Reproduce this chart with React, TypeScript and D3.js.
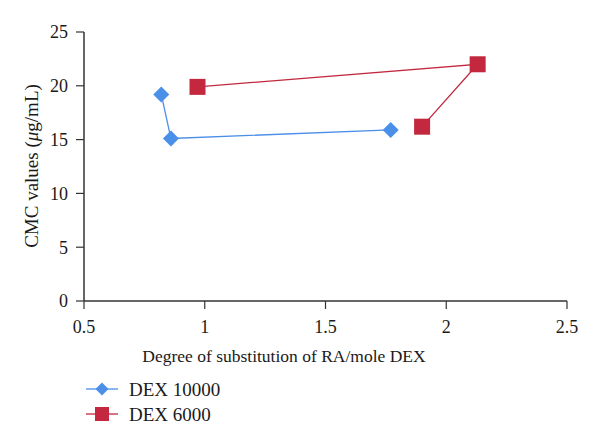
import React from "react";
import * as d3 from "d3";

const xTicks = [0.5, 1, 1.5, 2, 2.5];
const yTicks = [0, 5, 10, 15, 20, 25];
const dex10000X = [0.82, 0.86, 1.77];
const dex10000Y = [19.2, 15.1, 15.9];
const dex6000X = [0.97, 2.13, 1.9];
const dex6000Y = [19.9, 22.0, 16.2];
const seriesNames = ["DEX 10000", "DEX 6000"];

const W = 600, H = 448;
const BLUE = "#4a8fe8";
const RED = "#c3283f";
const FONT = "'Liberation Serif', 'DejaVu Serif', serif";
const TXT = "#1a1a1a";

export default function App() {
  const x = d3.scaleLinear().domain([0.5, 2.5]).range([84, 567]);
  const y = d3.scaleLinear().domain([0, 25]).range([301, 32]);
  const line = d3.line<[number, number]>().x(d => x(d[0])).y(d => y(d[1]));
  const s1: [number, number][] = dex10000X.map((v, i) => [v, dex10000Y[i]]);
  const s2: [number, number][] = dex6000X.map((v, i) => [v, dex6000Y[i]]);
  const diamond = (cx: number, cy: number, r: number) =>
    `M${cx},${cy - r}L${cx + r},${cy}L${cx},${cy + r}L${cx - r},${cy}Z`;
  const sq = 16;
  return (
    <svg width={W} height={H} style={{ position: "absolute", left: 0, top: 0, background: "#fff" }} fontFamily={FONT}>
      <line x1={x(0.5)} x2={x(2.5)} y1={y(0)} y2={y(0)} stroke="#333" strokeWidth={1.5} />
      <line x1={x(0.5)} x2={x(0.5)} y1={y(0)} y2={y(25)} stroke="#333" strokeWidth={1.5} />
      {yTicks.map(t => (
        <g key={"y" + t}>
          <line x1={x(0.5) - 8} x2={x(0.5)} y1={y(t)} y2={y(t)} stroke="#333" strokeWidth={1.2} />
          <text x={x(0.5) - 16} y={y(t)} dy="0.35em" textAnchor="end" fontSize={18} fill={TXT}>{t}</text>
        </g>
      ))}
      {xTicks.map(t => (
        <g key={"x" + t}>
          <line x1={x(t)} x2={x(t)} y1={y(0)} y2={y(0) + 8} stroke="#333" strokeWidth={1.2} />
          <text x={x(t)} y={y(0) + 32} textAnchor="middle" fontSize={18} fill={TXT}>{t}</text>
        </g>
      ))}
      <text x={284} y={362} textAnchor="middle" fontSize={17.5} fill={TXT}>Degree of substitution of RA/mole DEX</text>
      <text transform={`translate(38,166) rotate(-90)`} textAnchor="middle" fontSize={19} fill={TXT}>
        CMC values (<tspan fontStyle="italic">μ</tspan>g/mL)
      </text>
      <path d={line(s1) || ""} fill="none" stroke={BLUE} strokeWidth={1.3} />
      <path d={line(s2) || ""} fill="none" stroke={RED} strokeWidth={1.3} />
      {s1.map((d, i) => (
        <path key={"d" + i} d={diamond(x(d[0]), y(d[1]), 8)} fill={BLUE} />
      ))}
      {s2.map((d, i) => (
        <rect key={"s" + i} x={x(d[0]) - sq / 2} y={y(d[1]) - sq / 2} width={sq} height={sq} fill={RED} />
      ))}
      <line x1={86} x2={118} y1={389} y2={389} stroke={BLUE} strokeWidth={1.3} />
      <path d={diamond(102, 389, 6.5)} fill={BLUE} />
      <text x={129} y={389} dy="0.35em" fontSize={19} fill={TXT}>{seriesNames[0]}</text>
      <line x1={86} x2={118} y1={414} y2={414} stroke={RED} strokeWidth={1.3} />
      <rect x={95} y={407} width={14} height={14} fill={RED} />
      <text x={129} y={414} dy="0.35em" fontSize={19} fill={TXT}>{seriesNames[1]}</text>
    </svg>
  );
}
